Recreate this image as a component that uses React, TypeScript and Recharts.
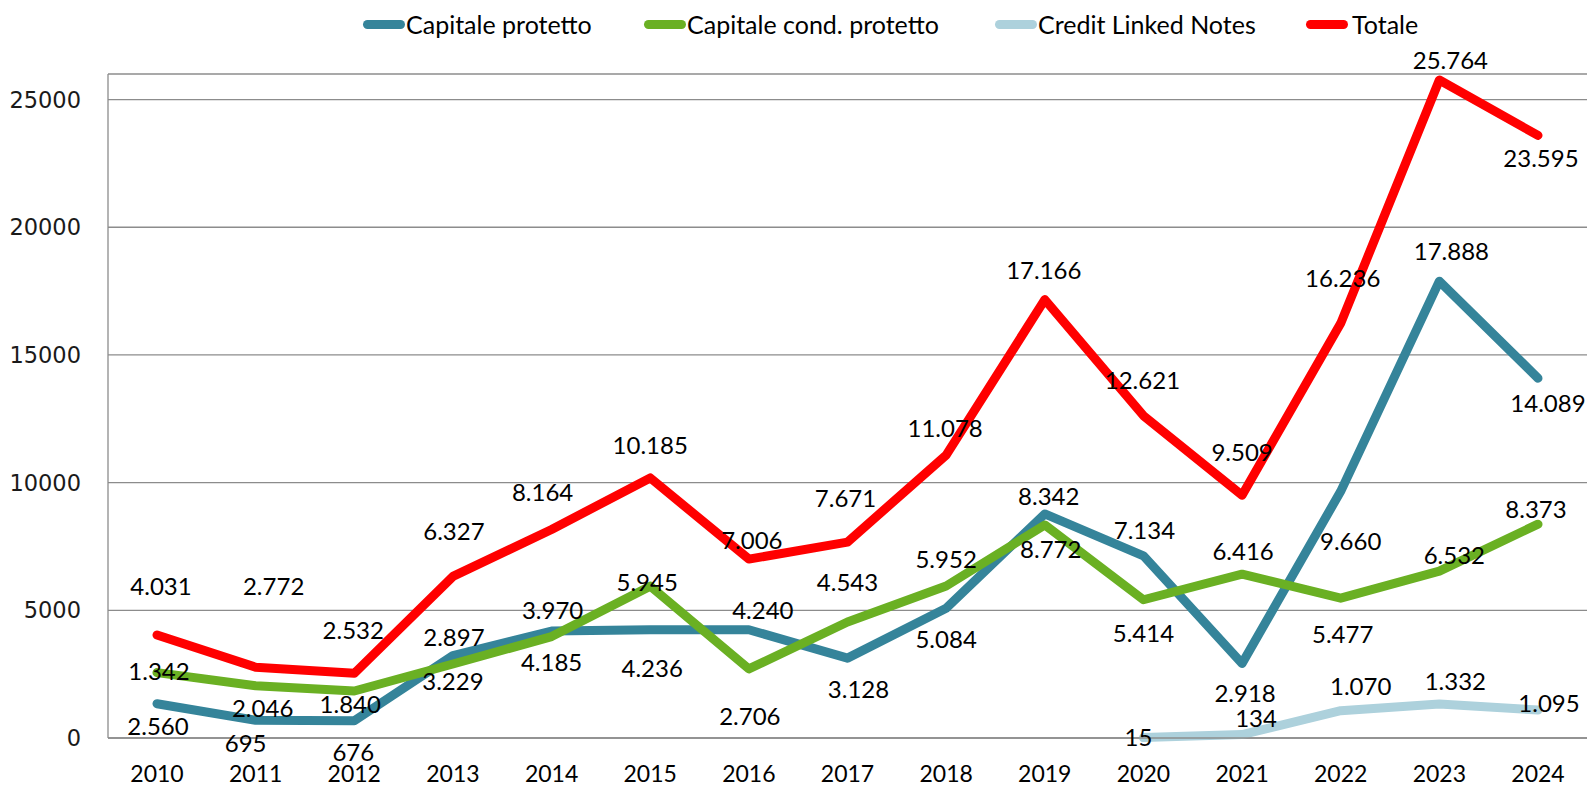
import { LineChart, Line, XAxis, YAxis, CartesianGrid, Legend, LabelList } from 'recharts'

const years = ['2010', '2011', '2012', '2013', '2014', '2015', '2016', '2017', '2018', '2019', '2020', '2021', '2022', '2023', '2024']
const capitaleProtetto = [1342, 695, 676, 3229, 4185, 4236, 4240, 3128, 5084, 8772, 7134, 2918, 9660, 17888, 14089]
const capitaleCondProtetto = [2560, 2046, 1840, 2897, 3970, 5945, 2706, 4543, 5952, 8342, 5414, 6416, 5477, 6532, 8373]
const creditLinkedNotes = [null, null, null, null, null, null, null, null, null, null, 15, 134, 1070, 1332, 1095]
const totale = [4031, 2772, 2532, 6327, 8164, 10185, 7006, 7671, 11078, 17166, 12621, 9509, 16236, 25764, 23595]
const yTicks = [0, 5000, 10000, 15000, 20000, 25000]

// label nudges [dx, dy] from each point
const offProtetto = [[2, -32], [-10, 23], [-1, 32], [0, 26], [0, 31], [2, 39], [14, -19], [11, 31], [0, 31], [6, 35], [1, -25], [3, 30], [10, 50], [12, -30], [10, 25]]
const offCond = [[1, 54], [7, 23], [-4, 13], [1, -27], [1, -26], [-3, -4], [1, 48], [0, -40], [0, -27], [4, -29], [0, 34], [1, -23], [2, 36], [15, -16], [-2, -15]]
const offCln = [[0, 0], [0, 0], [0, 0], [0, 0], [0, 0], [0, 0], [0, 0], [0, 0], [0, 0], [0, 0], [-5, 0], [14, -16], [20, -24], [16, -23], [11, -7]]
const offTotale = [[4, -49], [18, -81], [-1, -43], [1, -45], [-9, -37], [0, -32], [3, -19], [-2, -44], [-1, -27], [-1, -29], [-1, -35], [0, -43], [2, -45], [11, -20], [3, 23]]

const series = [
  { key: 'protetto', name: 'Capitale protetto', color: '#35849a', off: offProtetto },
  { key: 'cond', name: 'Capitale cond. protetto', color: '#6ab023', off: offCond },
  { key: 'cln', name: 'Credit Linked Notes', color: '#add1dc', off: offCln },
  { key: 'totale', name: 'Totale', color: '#ff0000', off: offTotale },
]

const data = years.map((y, i) => ({
  year: y,
  protetto: capitaleProtetto[i],
  cond: capitaleCondProtetto[i],
  cln: creditLinkedNotes[i],
  totale: totale[i],
}))

const FONT = 'Lato, "Liberation Sans", sans-serif'
const GRID = '#8c8c8c'

function fmt(v: number) {
  return String(v).replace(/\B(?=(\d{3})+(?!\d))/g, '.')
}

function makeLabel(off: number[][]) {
  return (p: any) => {
    if (p.value == null) return null
    const o = off[p.index] || [0, 0]
    return (
      <text x={p.x + o[0]} y={p.y + o[1] + 8.6} textAnchor="middle" fontSize={24} fontFamily={FONT} fill="#000">
        {fmt(p.value)}
      </text>
    )
  }
}

const legendIconX = [363, 644, 995, 1306]

function LegendBox() {
  return (
    <div style={{ position: 'relative', width: 1588, height: 48 }}>
      {series.map((s, i) => (
        <div key={s.key} style={{ position: 'absolute', left: legendIconX[i], top: 0, height: 48, display: 'flex', alignItems: 'center' }}>
          <span style={{ display: 'inline-block', width: 42, height: 9, borderRadius: 5, background: s.color }} />
          <span style={{ fontFamily: FONT, fontSize: 25, color: '#000', marginLeft: i === 3 ? 4 : 1, whiteSpace: 'nowrap' }}>{s.name}</span>
        </div>
      ))}
    </div>
  )
}

export default function App() {
  return (
    <div style={{ position: 'absolute', left: 0, top: 0, width: 1588, height: 787, background: '#fff' }}>
      <LineChart width={1588} height={787} data={data} margin={{ top: 26, right: 1, left: 0, bottom: 0 }}>
        <CartesianGrid vertical={false} stroke={GRID} strokeWidth={1.3} />
        <XAxis dataKey="year" interval={0} height={49} padding={{ left: 49, right: 49 }} tickLine={false}
          axisLine={{ stroke: GRID, strokeWidth: 1.3 }}
          tickMargin={22} tick={{ fontSize: 23, fontFamily: FONT, fill: '#000' }} />
        <YAxis width={108} domain={[0, 26000]} ticks={yTicks} tickLine={false} axisLine={{ stroke: GRID, strokeWidth: 1.3 }}
          tickMargin={21} tick={{ fontSize: 22.5, fontFamily: '"DejaVu Sans", sans-serif', fill: '#1a1a1a' }} />
        <Legend verticalAlign="top" align="left" content={() => <LegendBox />}
          wrapperStyle={{ top: 0, left: 0, width: 1588, height: 48 }} />
        {series.map(s => (
          <Line key={s.key} dataKey={s.key} name={s.name} type="linear" stroke={s.color} strokeWidth={9}
            strokeLinecap="round" strokeLinejoin="round" dot={false} activeDot={false} isAnimationActive={false}>
            <LabelList dataKey={s.key} content={makeLabel(s.off)} />
          </Line>
        ))}
      </LineChart>
    </div>
  )
}
